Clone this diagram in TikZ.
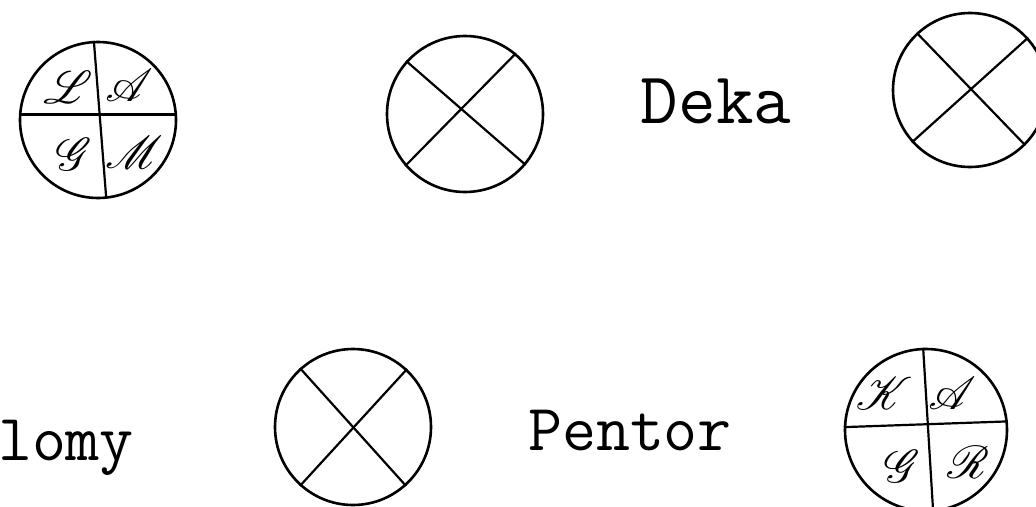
\documentclass[tikz,border=0pt]{standalone}
\usepackage{mathrsfs}
\DeclareFontFamily{U}{rsfs}{\skewchar\font127 }
\DeclareFontShape{U}{rsfs}{m}{n}{<-> rsfs10}{}
\begin{document}
\begin{tikzpicture}[x=1pt,y=-1pt,
    ring/.style={circle,draw,line width=2.6pt,minimum size=#1,inner sep=0pt},
    bar/.style={line width=2.2pt},
    glyph/.style={inner sep=0pt,font=\fontsize{46}{52}\selectfont},
    word/.style={inner sep=0pt,anchor=base,font=\ttfamily\fontsize{#1}{#1}\selectfont}
  ]
    \useasboundingbox (0,0) rectangle (1036,506);
    % quartered discs
    \node[ring=156pt] (disc1) at (98,120) {};
    \draw[bar] (disc1.93) -- (disc1.-84);
    \draw[bar] (disc1.176) -- (disc1.4);
    \node[glyph] (l1) at (68,87) {$\mathscr{L}$};
    \node[glyph] (a1) at (129,85) {$\mathscr{A}$};
    \node[glyph] (g1) at (74,154) {$\mathscr{G}$};
    \node[glyph] (m1) at (134,152) {$\mathscr{M}$};
    \node[ring=162pt] (disc5) at (926,430) {};
    \draw[bar] (disc5.92) -- (disc5.-85);
    \draw[bar] (disc5.178) -- (disc5.6);
    \node[glyph] (k5) at (884,393) {$\mathscr{K}$};
    \node[glyph] (a5) at (952,393) {$\mathscr{A}$};
    \node[glyph] (g5) at (902,466) {$\mathscr{G}$};
    \node[glyph] (r5) at (968,462) {$\mathscr{R}$};
    % crossed discs
    \node[ring=156pt] (disc2) at (465,114) {};
    \draw[bar] (disc2.138) -- (disc2.-40);
    \draw[bar] (disc2.50) -- (disc2.221);
    \node[ring=154pt] (disc3) at (970,90) {};
    \draw[bar] (disc3.133) -- (disc3.-45);
    \draw[bar] (disc3.42) -- (disc3.222);
    \node[ring=156pt] (disc4) at (353,427) {};
    \draw[bar] (disc4.132) -- (disc4.-48);
    \draw[bar] (disc4.47) -- (disc4.228);
    % words
    \node[word=73] (deka) at (716,123) {Deka};
    \node[word=66] (pentor) at (630,450) {Pentor};
    \node[word=66] (lomy) at (66,460) {lomy};
\end{tikzpicture}
\end{document}
